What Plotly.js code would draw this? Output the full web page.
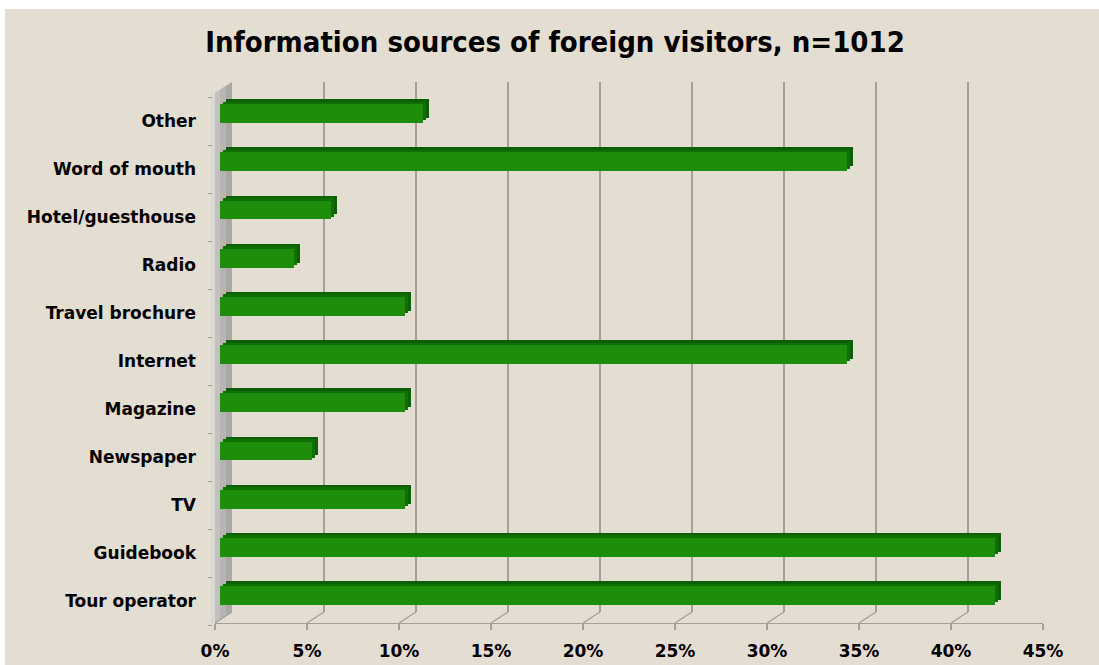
<!DOCTYPE html>
<html>
<head>
<meta charset="utf-8">
<script src="https://cdn.plot.ly/plotly-3.0.1.min.js"></script>
<style>html,body{margin:0;padding:0;background:#fff;}#chart{width:1099px;height:665px;}</style>
</head>
<body>
<div id="chart"></div>
<script>
// ---- data (bottom to top) ----
var categories = ["Tour operator", "Guidebook", "TV", "Newspaper", "Magazine", "Internet",
                  "Travel brochure", "Radio", "Hotel/guesthouse", "Word of mouth", "Other"];
var shares = [42, 42, 10, 5, 10, 34, 10, 4, 6, 34, 11];
var tickValues = [0, 5, 10, 15, 20, 25, 30, 35, 40, 45];
var tickLabels = ["0%", "5%", "10%", "15%", "20%", "25%", "30%", "35%", "40%", "45%"];
var chartTitle = "Information sources of foreign visitors, n=1012";

// ---- layout helpers ----
var W = 1099, H = 665;
function px(x) { return x / W; }
function py(y) { return 1 - y / H; }

var bg = "#e4ddd1";
var gridCol = "#a59f97";
var labelFont = {family: "DejaVu Sans", size: 17, color: "#000", weight: "bold"};

var traces = [
  // hidden trace to carry the category labels axis
  {type: "scatter", mode: "none", x: shares, y: categories, xaxis: "x", yaxis: "y",
   hoverinfo: "skip", showlegend: false},
  // hidden trace for the back-wall grid subplot
  {type: "scatter", mode: "none", x: tickValues, y: tickValues.map(function () { return 0.5; }),
   xaxis: "x2", yaxis: "y3", hoverinfo: "skip", showlegend: false},
  // extrusion (depth) of the bars: back and middle layers
  {type: "bar", orientation: "h", x: shares, y: categories, xaxis: "x3", yaxis: "y2",
   width: 0.39, marker: {color: "#0c5f04", line: {width: 0}}, hoverinfo: "skip", showlegend: false},
  {type: "bar", orientation: "h", x: shares, y: categories, xaxis: "x4", yaxis: "y4",
   width: 0.39, marker: {color: "#107006", line: {width: 0}}, hoverinfo: "skip", showlegend: false},
  // front faces
  {type: "bar", orientation: "h", x: shares, y: categories, xaxis: "x5", yaxis: "y5",
   width: 0.39, marker: {color: "#1e8d0b", line: {width: 0}}, showlegend: false}
];

var shapes = [
  // white edges at top / left
  {type: "rect", xref: "paper", yref: "paper", x0: 0, x1: 1, y0: py(0), y1: py(9), fillcolor: "#ffffff", line: {width: 0}, layer: "below"},
  {type: "rect", xref: "paper", yref: "paper", x0: 0, x1: px(5), y0: 0, y1: 1, fillcolor: "#ffffff", line: {width: 0}, layer: "below"}
];
// left wall in gray strips
var wallStrips = [["#d9d8d5", 211, 215], ["#c2c1be", 215, 220], ["#b6b5b2", 220, 226], ["#aaa9a6", 226, 232]];
wallStrips.forEach(function (s) {
  var xa = s[1], xb = s[2];
  var ta = 95 - (xa - 211) * 13 / 21, tb = 95 - (xb - 211) * 13 / 21;
  var ba = 625 - (xa - 211) * 13 / 21, bb = 625 - (xb - 211) * 13 / 21;
  shapes.push({type: "path", xref: "paper", yref: "paper",
    path: "M" + px(xa) + "," + py(ta) + " L" + px(xb) + "," + py(tb) + " L" + px(xb) + "," + py(bb) + " L" + px(xa) + "," + py(ba) + " Z",
    fillcolor: s[0], line: {width: 0}, layer: "below"});
});
// floor diagonals from front ticks to back gridlines
tickValues.forEach(function (v) {
  shapes.push({type: "line", xref: "x", xsizemode: "pixel", xanchor: v, x0: 0, x1: 17,
    yref: "paper", y0: py(623), y1: py(612), line: {color: gridCol, width: 1.3}, layer: "below"});
});

function hiddenX(x0, anchor) {
  return {domain: [px(x0), px(x0 + 45 * 18.45)], range: [0, 45], anchor: anchor, visible: false, fixedrange: true};
}
function hiddenY(center0, anchor) {
  return {domain: [py(center0 + 482 + 24.1), py(center0 - 24.1)], type: "category", categoryarray: categories,
          categoryorder: "array", range: [-0.5, 10.5], anchor: anchor, visible: false, fixedrange: true};
}

var layout = {
  width: W, height: H,
  margin: {l: 0, r: 0, t: 0, b: 0},
  paper_bgcolor: bg, plot_bgcolor: "rgba(0,0,0,0)",
  showlegend: false,
  bargap: 0,
  title: {text: chartTitle, x: px(555), xref: "paper", xanchor: "center", y: py(42), yref: "paper", yanchor: "middle",
          font: {family: "DejaVu Sans Condensed, Liberation Sans Narrow, Liberation Sans", size: 29, color: "#000", weight: "bold"}},
  xaxis: {domain: [px(215), px(1043)], range: [0, 45], anchor: "free", position: py(623),
          tickmode: "array", tickvals: tickValues, ticktext: tickLabels, tickfont: labelFont,
          ticks: "outside", ticklen: 6, tickcolor: gridCol, tickwidth: 1.3, ticklabelstandoff: 6,
          showline: true, linecolor: gridCol, linewidth: 1.3, showgrid: false, zeroline: false, fixedrange: true},
  yaxis: {domain: [py(625), py(97)], type: "category", categoryarray: categories, categoryorder: "array",
          range: [-0.5, 10.5], anchor: "free", position: px(212),
          ticks: "outside", tickson: "boundaries", ticklen: 4, tickcolor: gridCol, ticklabelstandoff: 16,
          tickfont: labelFont, showline: false, showgrid: false, zeroline: false, fixedrange: true},
  xaxis2: {domain: [px(232), px(1060)], range: [0, 45], anchor: "y3",
           tickmode: "array", tickvals: tickValues, showticklabels: false, ticks: "",
           showgrid: true, gridcolor: gridCol, gridwidth: 1.5, zeroline: false, showline: false, fixedrange: true},
  yaxis3: {domain: [py(612), py(82)], anchor: "x2", range: [0, 1],
           showticklabels: false, showgrid: false, zeroline: false, showline: false, ticks: "", fixedrange: true},
  xaxis3: hiddenX(226, "y2"), yaxis2: hiddenY(108.5, "x3"),
  xaxis4: hiddenX(223, "y4"), yaxis4: hiddenY(111, "x4"),
  xaxis5: hiddenX(220, "y5"), yaxis5: hiddenY(113.5, "x5"),
  shapes: shapes
};

Plotly.newPlot("chart", traces, layout, {displayModeBar: false, staticPlot: true});
</script>
</body>
</html>
